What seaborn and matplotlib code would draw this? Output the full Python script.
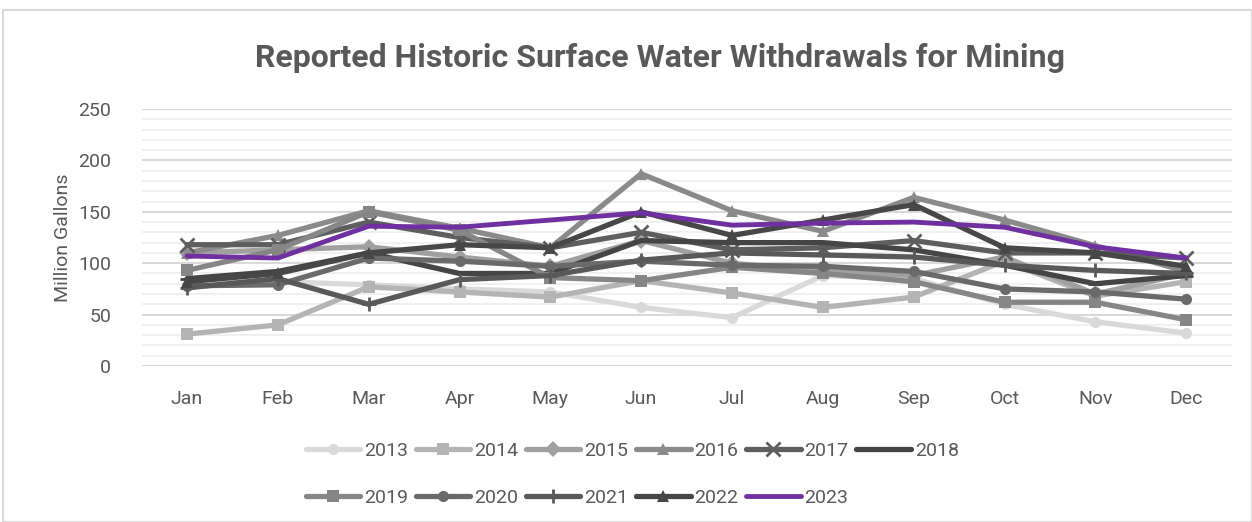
import matplotlib
matplotlib.use("Agg")
import matplotlib.pyplot as plt
import seaborn as sns
import pandas as pd
from matplotlib.patches import Rectangle
from matplotlib.ticker import MultipleLocator

months = ["Jan", "Feb", "Mar", "Apr", "May", "Jun", "Jul", "Aug", "Sep", "Oct", "Nov", "Dec"]

y2013 = [80, 82, 79, 75, 72, 57, 47, 88, 85, 60, 43, 32]
y2014 = [31, 40, 77, 72, 67, 83, 71, 57, 67, 102, 68, 82]
y2015 = [110, 113, 116, 106, 97, 122, 100, 92, 88, 106, 70, 90]
y2016 = [110, 127, 151, 134, 115, 187, 151, 131, 164, 142, 117, 92]
y2017 = [118, 118, 140, 125, 115, 130, 113, 115, 122, 110, 110, 105]
y2018 = [85, 92, 110, 90, 90, 122, 120, 120, 113, 98, 80, 88]
y2019 = [93, 113, 150, 132, 86, 83, 96, 90, 82, 62, 62, 45]
y2020 = [78, 79, 105, 102, 97, 102, 98, 97, 92, 75, 72, 65]
y2021 = [76, 85, 60, 84, 88, 103, 110, 108, 106, 98, 93, 90]
y2022 = [82, 90, 110, 118, 115, 150, 127, 142, 157, 115, 110, 97]
y2023 = [107, 105, 136, 135, 142, 149, 137, 139, 140, 135, 116, 105]

years = ["2013", "2014", "2015", "2016", "2017", "2018", "2019", "2020", "2021", "2022", "2023"]
series = [y2013, y2014, y2015, y2016, y2017, y2018, y2019, y2020, y2021, y2022, y2023]

colors = ["#d9d9d9", "#b4b4b4", "#a0a0a0", "#8a8a8a", "#5e5e5e", "#454545",
          "#868686", "#6a6a6a", "#595959", "#474747", "#7030a0"]
markers = ["o", "s", "D", "^", "x", "_", "s", "o", "+", "^", None]

sns.set_theme(style="white")
plt.rcParams["font.family"] = ["Roboto", "DejaVu Sans"]

fig = plt.figure(figsize=(12.52, 5.22), dpi=100)
ax = fig.add_axes([141.6 / 1252, 1 - 366 / 522, (1231.6 - 141.6) / 1252, (366 - 109) / 522])

text_color = "#595959"

for yr, vals, c, m in zip(years, series, colors, markers):
    df = pd.DataFrame({"Month": list(range(12)), "Value": vals})
    kw = dict(lw=3.8 if yr != "2023" else 3.5, color=c, label=yr)
    if m is not None:
        kw.update(marker=m, markersize=8 if m not in ("x", "+", "_") else 10,
                  markeredgewidth=2 if m in ("x", "+", "_") else 0,
                  markeredgecolor=c, markerfacecolor=c)
    sns.lineplot(data=df, x="Month", y="Value", ax=ax, **kw)

ax.set_xlim(-0.5, 11.5)
ax.set_ylim(0, 250)
ax.set_xticks(range(12))
ax.set_xticklabels(months)
ax.yaxis.set_major_locator(MultipleLocator(50))
ax.yaxis.set_minor_locator(MultipleLocator(10))
ax.grid(which="minor", axis="y", color="#f0f0f0", lw=1.5, zorder=0)
ax.grid(which="major", axis="y", color="#d9d9d9", lw=1.5, zorder=0)
ax.set_axisbelow(True)
for s in ax.spines.values():
    s.set_visible(False)
ax.tick_params(axis="both", which="both", length=0, labelsize=14, colors=text_color)
ax.tick_params(axis="x", pad=17)
ax.tick_params(axis="y", pad=22)
ax.set_xlabel("")
ax.set_ylabel("Million Gallons", fontsize=14, color=text_color, labelpad=4)
if ax.get_legend():
    ax.get_legend().remove()

fig.text(0.527, 1 - 58 / 522, "Reported Historic Surface Water Withdrawals for Mining",
         ha="center", va="center", fontsize=23, fontweight="bold", color=text_color)

handles, labels = ax.get_legend_handles_labels()
hmap = dict(zip(labels, handles))
order = ["2013", "2019", "2014", "2020", "2015", "2021", "2016", "2022", "2017", "2023", "2018"]
fig.legend([hmap[k] for k in order], order, loc="upper center",
           bbox_to_anchor=(0.505, 1 - 424 / 522),
           ncol=6, frameon=False, fontsize=14, labelcolor=text_color,
           handlelength=2.8, handletextpad=0.2, columnspacing=0.4, labelspacing=1.5)

fig.patches.append(Rectangle((3 / 1252, 0), 1 - 3 / 1252, 1 - 10 / 522,
                             transform=fig.transFigure, fill=False,
                             edgecolor="#d9d9d9", lw=1.5))

fig.savefig("out.png", dpi=100)
